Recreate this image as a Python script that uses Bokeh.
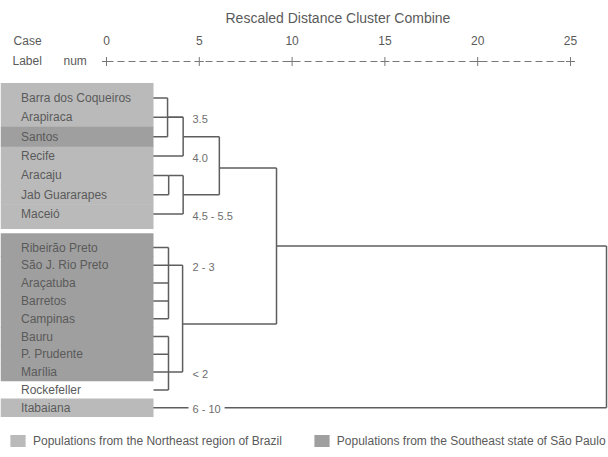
from bokeh.plotting import figure
from bokeh.models import Range1d, LinearAxis, FixedTicker, Legend, LegendItem, ColumnDataSource
from bokeh.core.properties import value
from bokeh.embed import file_html
from bokeh.resources import INLINE

# ---------------- data ----------------
leaves = ["Barra dos Coqueiros", "Arapiraca", "Santos", "Recife", "Aracaju",
          "Jab Guararapes", "Maceió", "Ribeirão Preto", "São J. Rio Preto",
          "Araçatuba", "Barretos", "Campinas", "Bauru", "P. Prudente",
          "Marília", "Rockefeller", "Itabaiana"]
origin = ["NE", "NE", "SE", "NE", "NE", "NE", "NE",
          "SE", "SE", "SE", "SE", "SE", "SE", "SE", "SE", "none", "NE"]

merge_names = ["C1", "C2", "C3", "C4", "C5", "C6", "C7", "C8", "C9", "C10"]
merge_children = [
    ["Barra dos Coqueiros", "Santos"],
    ["C1", "Arapiraca", "Recife"],
    ["Aracaju", "Jab Guararapes"],
    ["C3", "Maceió"],
    ["C2", "C4"],
    ["Ribeirão Preto", "São J. Rio Preto", "Araçatuba", "Barretos", "Campinas"],
    ["Bauru", "P. Prudente", "Marília", "Rockefeller"],
    ["C6", "C7"],
    ["C5", "C8"],
    ["C9", "Itabaiana"],
]
merge_dist = [3.29, 4.13, 3.35, 4.13, 6.08, 3.34, 3.34, 4.10, 9.16, 26.94]
merge_anchor_child = [None, None, 0, None, None, 1, 2, None, None, None]
merge_anchor_frac = [0.5, 0.5, 0.5, 0.5, 0.54, 0.5, 0.5, 0.55, 0.5, 0.5]

axis_ticks = [0, 5, 10, 15, 20, 25]
header_case = "Case"
header_row = ["Label", "num"]
title_text = "Rescaled Distance Cluster Combine"
range_labels = ["3.5", "4.0", "4.5 - 5.5", "2 - 3", "< 2", "6 - 10"]
range_label_rows = ["Arapiraca", "Recife", "Maceió", "São J. Rio Preto", "Marília", "Itabaiana"]
legend_labels = ["Populations from the Northeast region of Brazil",
                 "Populations from the Southeast state of São Paulo"]

# ---------------- layout / style ----------------
W, H = 608, 457
TOP = 50
FONT = "Liberation Sans"
BAND_COLORS = {"NE": "#bababa", "SE": "#9f9f9f", "none": "white"}
LINE_COL = "#5e5e5e"
AX_COL = "#777777"
TXT = "#5a5a5a"
PX = 18.56                      # pixels per distance unit
X0 = -106 / PX                  # frame left edge in distance units
X1 = X0 + W / PX
AXIS_Y = 61

def img_x(px):
    return (px - 106) / PX

def row_y(i):
    if i < 7:
        return 97.5 + 19.35 * i
    return 247.0 + 17.8 * (i - 7)

def row_h(i):
    return 19.35 if i < 7 else 17.8

ys = {name: row_y(i) for i, name in enumerate(leaves)}
dist = {name: 0.0 for name in leaves}

seg = dict(x0=[], y0=[], x1=[], y1=[])
for name, kids, d, ac, af in zip(merge_names, merge_children, merge_dist,
                                 merge_anchor_child, merge_anchor_frac):
    kys = [ys[k] for k in kids]
    lo, hi = min(kys), max(kys)
    for k in kids:
        seg["x0"].append(dist[k]); seg["x1"].append(d)
        seg["y0"].append(ys[k]); seg["y1"].append(ys[k])
    seg["x0"].append(d); seg["x1"].append(d)
    seg["y0"].append(lo); seg["y1"].append(hi)
    ys[name] = kys[ac] if ac is not None else lo + af * (hi - lo)
    dist[name] = d

p = figure(width=W, height=H, x_range=Range1d(X0, X1), y_range=Range1d(H, TOP),
           output_backend="svg", toolbar_location=None,
           x_axis_location=None, y_axis_location=None,
           min_border_top=TOP, min_border_left=0, min_border_right=0, min_border_bottom=0,
           outline_line_color=None, background_fill_color="white", border_fill_color="white")
p.grid.grid_line_color = None

# title
p.title.text = title_text
p.title.align = "left"
p.title.offset = 225
p.title.text_font = FONT
p.title.text_font_size = "14px"
p.title.text_font_style = "normal"
p.title.text_color = TXT
p.title.standoff = 9

# dendrogram lines
p.segment(source=ColumnDataSource(seg), x0="x0", y0="y0", x1="x1", y1="y1",
          line_color=LINE_COL, line_width=1.5)

# label bands (drawn over the leaf stubs)
pad_top = {0: 5, 7: 5}
pad_bot = {6: 5}
box_right = img_x(153)
bands = {k: dict(top=[], bottom=[]) for k in BAND_COLORS}
for i, o in enumerate(origin):
    y, h = row_y(i), row_h(i)
    bands[o]["top"].append(y - h / 2 - pad_top.get(i, 0) - 0.3)
    bands[o]["bottom"].append(y + h / 2 + pad_bot.get(i, 0) + 0.3)
rends = {}
for o in ("none", "NE", "SE"):
    n = len(bands[o]["top"])
    src = ColumnDataSource(dict(top=bands[o]["top"], bottom=bands[o]["bottom"],
                                left=[X0] * n, right=[box_right] * n))
    rends[o] = p.quad(source=src, left="left", right="right", top="top", bottom="bottom",
                      fill_color=BAND_COLORS[o], line_color=None)

# leaf labels
p.text(x=[img_x(20.5)] * len(leaves), y=[row_y(i) for i in range(len(leaves))],
       text=leaves, text_font=value(FONT), text_font_size="12px",
       text_color=TXT, text_baseline="middle", text_align="left")

# range annotations
p.text(x=[img_x(188)] * len(range_labels),
       y=[ys[r] + 1.5 for r in range_label_rows],
       text=range_labels, text_font=value(FONT), text_font_size="11px",
       text_color="#6e6e6e", text_baseline="middle", text_align="left",
       background_fill_color="white", padding=4)

# dashed distance scale line with "+" tick marks
p.line(x=[axis_ticks[0], axis_ticks[-1]], y=[AXIS_Y, AXIS_Y], line_color=AX_COL,
       line_width=1, line_dash="7 4")
p.scatter(x=axis_ticks, y=[AXIS_Y] * len(axis_ticks), marker="cross", size=9,
          line_color=AX_COL, line_width=1)

# "Label  num" header row
p.text(x=[img_x(12), img_x(63)], y=[AXIS_Y - 1] * 2, text=header_row,
       text_font=value(FONT), text_font_size="12px", text_color=TXT,
       text_baseline="middle", text_align="left")

# top axis: tick labels (+ "Case" header on the same line)
case_pos = -4.25
ax = LinearAxis(ticker=FixedTicker(ticks=[case_pos] + axis_ticks),
                major_label_overrides={case_pos: header_case})
ax.axis_line_color = None
ax.major_tick_line_color = None
ax.minor_tick_line_color = None
ax.major_tick_in = 0
ax.major_tick_out = 0
ax.major_label_text_font = FONT
ax.major_label_text_font_size = "12px"
ax.major_label_text_color = TXT
ax.major_label_standoff = 3
p.add_layout(ax, "above")

# legend
legend = Legend(items=[LegendItem(label=legend_labels[0], renderers=[rends["NE"]]),
                       LegendItem(label=legend_labels[1], renderers=[rends["SE"]])],
                orientation="horizontal", location=(8, 9), spacing=30,
                glyph_width=19, glyph_height=15, label_height=15, label_standoff=6,
                padding=0, margin=0, border_line_color=None, background_fill_alpha=0,
                label_text_font=FONT, label_text_font_size="12px", label_text_color=TXT)
p.add_layout(legend)

open("out.html", "w").write(file_html(p, INLINE))
